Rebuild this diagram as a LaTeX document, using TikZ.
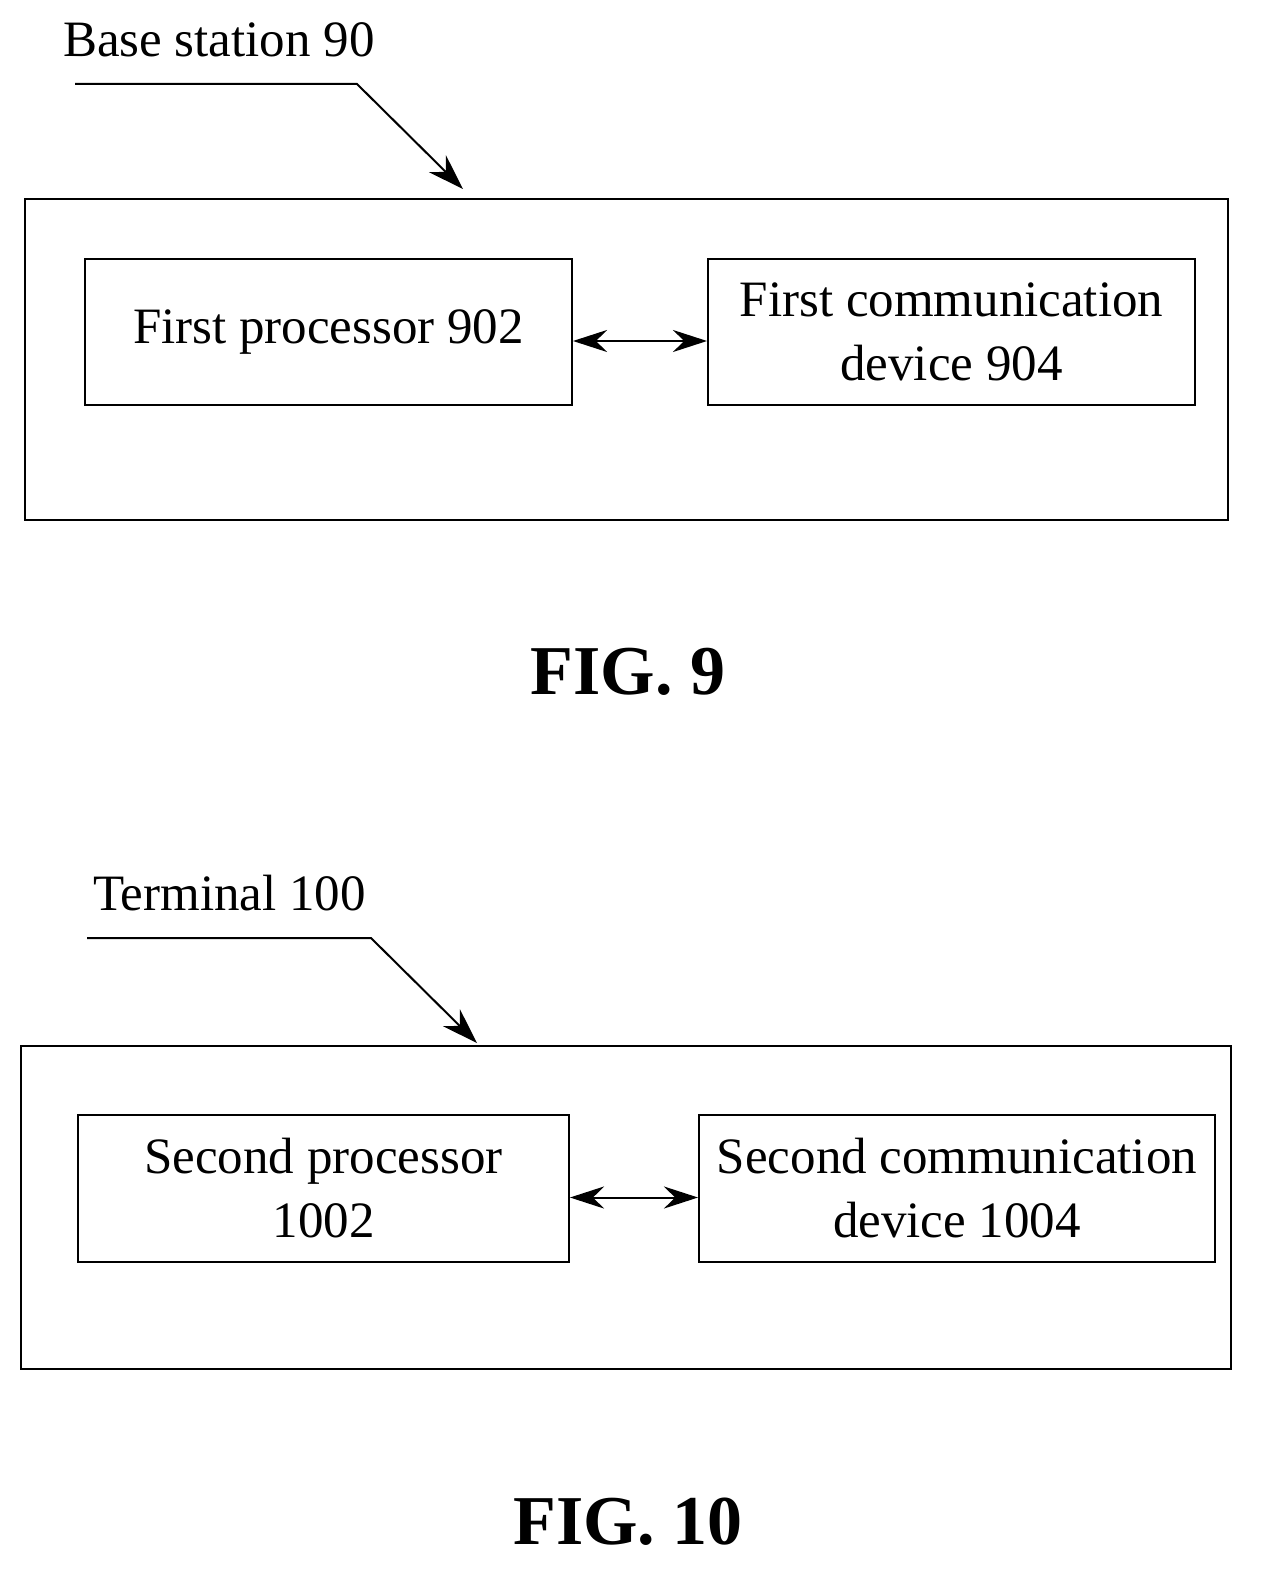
\documentclass[tikz,border=0pt]{standalone}
\usepackage{fontspec}
\setmainfont{Liberation Serif}
\usetikzlibrary{arrows.meta}
\begin{document}
\begin{tikzpicture}[x=0.5pt,y=-0.5pt,
  box/.style={draw,line width=1pt,inner sep=0},
  txt/.style={font=\fontsize{25.5}{32}\selectfont,align=center},
  fig/.style={font=\fontsize{35}{40}\selectfont\bfseries},
  arr/.style={line width=1pt,{Stealth[length=17pt,width=11pt]}-{Stealth[length=17pt,width=11pt]}},
  lead/.style={line width=1pt,-{Stealth[length=18pt,width=12pt]}}]
\useasboundingbox (0,0) rectangle (1274,1595);
% FIG 9
\draw[line width=1pt] (25,199) rectangle (1228,520);
\node[box,minimum width=243.5pt,minimum height=73pt] (a) at (328.5,332) {};
\node[txt] at (a) {First processor 902};
\node[box,minimum width=243.5pt,minimum height=73pt] (b) at (951.5,332) {};
\node[txt] at (b) {First communication\\device 904};
\draw[arr] ([yshift=-4.5pt]a.east) -- ([yshift=-4.5pt]b.west);
\node[txt,anchor=west] (l1) at (56,40) {Base station 90};
\coordinate (c1) at (75,84); \coordinate (c2) at (357,84); \coordinate (c3) at (463,189);
\draw[lead] (c1) -- (c2) -- (c3);
\node[fig] (f9) at (628,672) {FIG. 9};
% FIG 10
\draw[line width=1pt] (21,1046) rectangle (1231,1369);
\node[box,minimum width=245.5pt,minimum height=73.5pt] (c) at (323.5,1188.5) {};
\node[txt] at (c) {Second processor\\1002};
\node[box,minimum width=258pt,minimum height=73.5pt] (d) at (957,1188.5) {};
\node[txt] at (d) {Second communication\\device 1004};
\draw[arr] ([yshift=-4.5pt]c.east) -- ([yshift=-4.5pt]d.west);
\node[txt,anchor=west] (l2) at (86,893) {Terminal 100};
\coordinate (d1) at (87,938); \coordinate (d2) at (371,938); \coordinate (d3) at (477,1043);
\draw[lead] (d1) -- (d2) -- (d3);
\node[fig] (f10) at (628,1522) {FIG. 10};
\end{tikzpicture}
\end{document}
